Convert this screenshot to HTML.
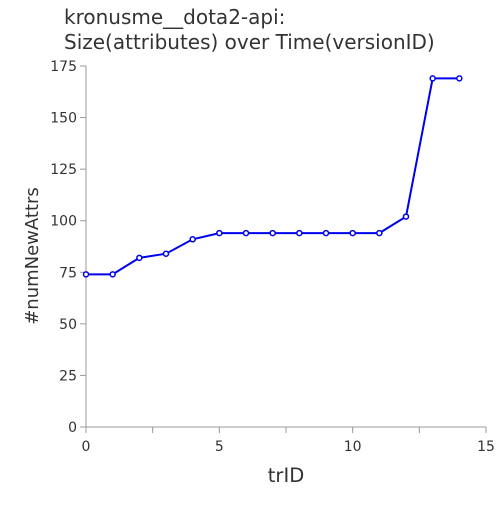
<!DOCTYPE html>
<html><head><meta charset="utf-8"><style>
body{margin:0;background:#fff;}
svg{font-family:"DejaVu Sans","Liberation Sans",sans-serif;}
</style></head><body>
<svg id="chart" width="500" height="500" viewBox="0 0 500 500" xmlns="http://www.w3.org/2000/svg">
<text x="64" y="24" font-size="20" fill="#333">kronusme__dota2-api:</text>
<text x="64" y="49" font-size="20" fill="#333">Size(attributes) over Time(versionID)</text>
<g id="axes"></g>
<g id="marks"></g>
<text x="286" y="482" font-size="19.5" text-anchor="middle" fill="#333">trID</text>
<text transform="translate(38,256) rotate(-90)" font-size="18" text-anchor="middle" fill="#333">#numNewAttrs</text>
</svg>
<script>
const xValues=[0,1,2,3,4,5,6,7,8,9,10,11,12,13,14];
const yValues=[74,74,82,84,91,94,94,94,94,94,94,94,102,169,169];
const xTicks=[0,5,10,15];
const xMinorTicks=[2.5,7.5,12.5];
const yTicks=[0,25,50,75,100,125,150,175];
const X0=86,X1=486,Y0=427,Y1=66;
const xs=v=>X0+(v-0)/15*(X1-X0);
const ys=v=>Y0-(v-0)/175*(Y0-Y1);
const NS="http://www.w3.org/2000/svg";
const axes=document.getElementById('axes'),marks=document.getElementById('marks');
function mk(t,a,p){const e=document.createElementNS(NS,t);for(const k in a)e.setAttribute(k,a[k]);p.appendChild(e);return e;}
let e=mk('line',{x1:X0,y1:Y1,x2:X0,y2:Y0,stroke:'#999','stroke-width':1},axes);


e=mk('line',{x1:X0,y1:Y0,x2:X1,y2:Y0,stroke:'#999','stroke-width':1},axes);


xTicks.forEach(v=>{
 let t=mk('line',{x1:xs(v),y1:Y0,x2:xs(v),y2:Y0+6,stroke:'#999'},axes);
 
 
 let l=mk('text',{x:xs(v),y:Y0+24,'font-size':14,'text-anchor':'middle',fill:'#333'},axes);
 l.textContent=v;
 
 
});
xMinorTicks.forEach(v=>{
 let t=mk('line',{x1:xs(v),y1:Y0,x2:xs(v),y2:Y0+6,stroke:'#999'},axes);
 
 
});
yTicks.forEach(v=>{
 let t=mk('line',{x1:X0-6,y1:ys(v),x2:X0,y2:ys(v),stroke:'#999'},axes);
 
 
 let l=mk('text',{x:X0-9,y:ys(v)+5,'font-size':14,'text-anchor':'end',fill:'#333'},axes);
 l.textContent=v;
 
 
});
const pts=xValues.map((x,i)=>xs(x)+','+ys(yValues[i])).join(' ');
e=mk('polyline',{points:pts,fill:'none',stroke:'#0000ee','stroke-width':2},marks);


xValues.forEach((x,i)=>{
 let c=mk('circle',{cx:xs(x),cy:ys(yValues[i]),r:2.5,fill:'#fff',stroke:'#0000ee','stroke-width':1.5},marks);
 
 
});
</script>
</body></html>
